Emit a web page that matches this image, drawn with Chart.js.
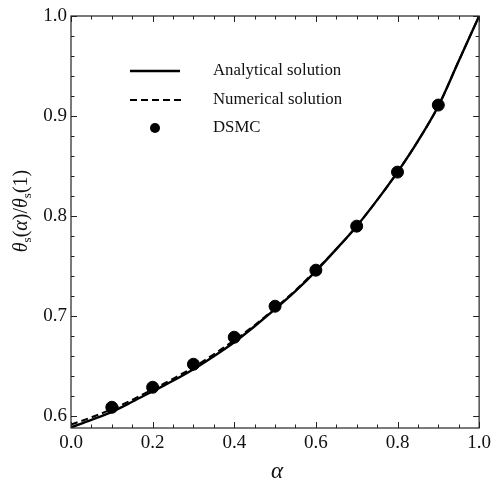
<!DOCTYPE html>
<html>
<head>
<meta charset="utf-8">
<script src="https://cdn.jsdelivr.net/npm/chart.js@4"></script>
<style>
  html, body { margin: 0; padding: 0; background: #fff; }
  #wrap { width: 495px; height: 483px; }
</style>
</head>
<body>
<div id="wrap"><canvas id="myChart" width="495" height="483"></canvas></div>
<script>
// values
const alphaGrid = [0, 0.05, 0.1, 0.15, 0.2, 0.25, 0.3, 0.35, 0.4, 0.45, 0.5,
                   0.55, 0.6, 0.65, 0.7, 0.75, 0.8, 0.85, 0.9, 0.95, 1.0];
const analytical = [0.589, 0.5965, 0.6045, 0.6145, 0.625, 0.6355, 0.647, 0.660, 0.674, 0.690, 0.707,
                    0.725, 0.745, 0.767, 0.790, 0.816, 0.844, 0.875, 0.910, 0.955, 1.0];
const numerical = [0.5917, 0.599, 0.607, 0.6165, 0.627, 0.6375, 0.649, 0.662, 0.676, 0.691, 0.708,
                   0.726, 0.746, 0.767, 0.790, 0.816, 0.844, 0.875, 0.910, 0.955, 1.0];
const dsmcAlpha = [0.1, 0.2, 0.3, 0.4, 0.5, 0.6, 0.7, 0.8, 0.9];
const dsmcValues = [0.609, 0.629, 0.652, 0.679, 0.710, 0.746, 0.790, 0.844, 0.911];

const xTicks = [0, 0.2, 0.4, 0.6, 0.8, 1.0];
const yTicks = [0.6, 0.7, 0.8, 0.9, 1.0];
const legendLabels = ['Analytical solution', 'Numerical solution', 'DSMC'];

const SERIF = '"Liberation Serif", "DejaVu Serif", serif';

const toPoints = (xs, ys) => xs.map((x, i) => ({ x: x, y: ys[i] }));

// inward ticks on all four sides, plus frame, axis titles and legend
const framePlugin = {
  id: 'frame',
  afterDraw(chart) {
    const ctx = chart.ctx;
    const a = chart.chartArea;
    const xs = chart.scales.x;
    const ys = chart.scales.y;
    ctx.save();
    ctx.strokeStyle = '#222';
    ctx.lineWidth = 1.2;
    ctx.strokeRect(a.left, a.top, a.right - a.left, a.bottom - a.top);

    ctx.lineWidth = 1;
    ctx.beginPath();
    for (let i = 0; i <= 20; i++) {
      const v = i * 0.05;
      const px = Math.round(xs.getPixelForValue(v)) + 0.5;
      const len = i % 4 === 0 ? 6 : 3.5;
      ctx.moveTo(px, a.bottom); ctx.lineTo(px, a.bottom - len);
      ctx.moveTo(px, a.top); ctx.lineTo(px, a.top + len);
    }
    for (let i = 0; i <= 20; i++) {
      const v = 0.6 + i * 0.02;
      const py = Math.round(ys.getPixelForValue(v)) + 0.5;
      const len = i % 5 === 0 ? 6 : 3.5;
      ctx.moveTo(a.left, py); ctx.lineTo(a.left + len, py);
      ctx.moveTo(a.right, py); ctx.lineTo(a.right - len, py);
    }
    ctx.stroke();

    // x title
    ctx.fillStyle = '#111';
    ctx.textAlign = 'center';
    ctx.textBaseline = 'middle';
    ctx.font = 'italic 23px ' + SERIF;
    ctx.fillText('α', (a.left + a.right) / 2 + 2, 472);

    // y title: θs(α)/θs(1)
    const big = 20, small = 13;
    const parts = [
      ['θ', 'italic ' + big + 'px ' + SERIF, 0],
      ['s', small + 'px ' + SERIF, 4],
      ['(', big + 'px ' + SERIF, 0],
      ['α', 'italic ' + big + 'px ' + SERIF, 0],
      [')/', big + 'px ' + SERIF, 0],
      ['θ', 'italic ' + big + 'px ' + SERIF, 0],
      ['s', small + 'px ' + SERIF, 4],
      ['(1)', big + 'px ' + SERIF, 0]
    ];
    let total = 0;
    parts.forEach(p => { ctx.font = p[1]; total += ctx.measureText(p[0]).width; });
    ctx.translate(20, 211);
    ctx.rotate(-Math.PI / 2);
    ctx.textAlign = 'left';
    ctx.textBaseline = 'alphabetic';
    let cx = -total / 2;
    parts.forEach(p => {
      ctx.font = p[1];
      ctx.fillText(p[0], cx, 7 + p[2]);
      cx += ctx.measureText(p[0]).width;
    });
    ctx.restore();

    // legend
    ctx.save();
    ctx.strokeStyle = '#000';
    ctx.fillStyle = '#000';
    ctx.lineWidth = 2.4;
    ctx.beginPath(); ctx.moveTo(130, 71); ctx.lineTo(180, 71); ctx.stroke();
    ctx.setLineDash([7, 4]);
    ctx.lineWidth = 2;
    ctx.beginPath(); ctx.moveTo(130, 100); ctx.lineTo(181, 100); ctx.stroke();
    ctx.setLineDash([]);
    ctx.beginPath(); ctx.arc(155, 128, 5, 0, Math.PI * 2); ctx.fill();
    ctx.font = '16.8px ' + SERIF;
    ctx.textAlign = 'left';
    ctx.textBaseline = 'middle';
    ctx.fillStyle = '#111';
    ctx.fillText(legendLabels[0], 213, 71);
    ctx.fillText(legendLabels[1], 213, 100);
    ctx.fillText(legendLabels[2], 213, 128);
    ctx.restore();
  }
};

const ctx = document.getElementById('myChart');
new Chart(ctx, {
  type: 'scatter',
  data: {
    datasets: [
      {
        label: legendLabels[0],
        data: toPoints(alphaGrid, analytical),
        showLine: true,
        borderColor: '#000',
        borderWidth: 2.4,
        pointRadius: 0,
        cubicInterpolationMode: 'monotone',
        order: 2
      },
      {
        label: legendLabels[1],
        data: toPoints(alphaGrid, numerical),
        showLine: true,
        borderColor: '#000',
        borderWidth: 2,
        borderDash: [7, 4],
        pointRadius: 0,
        cubicInterpolationMode: 'monotone',
        order: 1
      },
      {
        label: legendLabels[2],
        data: toPoints(dsmcAlpha, dsmcValues),
        showLine: false,
        backgroundColor: '#000',
        borderColor: '#000',
        pointRadius: 6,
        order: 0
      }
    ]
  },
  options: {
    responsive: false,
    animation: false,
    layout: { padding: { left: 0, top: 16, right: 12, bottom: 0 } },
    plugins: { legend: { display: false }, tooltip: { enabled: false } },
    scales: {
      x: {
        type: 'linear',
        min: 0,
        max: 1,
        grid: { display: false, drawTicks: false },
        border: { display: false },
        afterBuildTicks: s => { s.ticks = xTicks.map(v => ({ value: v })); },
        afterFit: s => { s.height = 55; },
        ticks: {
          padding: 4,
          maxRotation: 0,
          color: '#111',
          font: { family: SERIF, size: 19 },
          callback: v => v.toFixed(1)
        }
      },
      y: {
        type: 'linear',
        min: 0.5883,
        max: 1.0,
        grid: { display: false, drawTicks: false },
        border: { display: false },
        afterBuildTicks: s => { s.ticks = yTicks.map(v => ({ value: v })); },
        afterFit: s => { s.width = 71; },
        ticks: {
          padding: 4,
          color: '#111',
          font: { family: SERIF, size: 19 },
          callback: v => v.toFixed(1)
        }
      }
    }
  },
  plugins: [framePlugin]
});
</script>
</body>
</html>
